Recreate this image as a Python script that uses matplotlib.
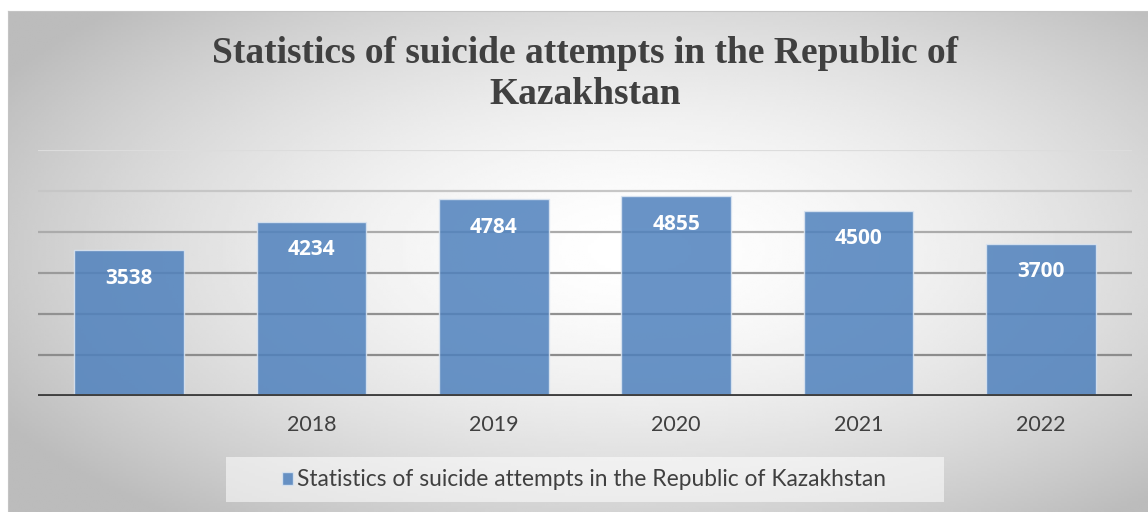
import numpy as np
import matplotlib
matplotlib.use("Agg")
import matplotlib.pyplot as plt
from matplotlib.patches import Rectangle

# data
categories = ["", "2018", "2019", "2020", "2021", "2022"]
attempts = [3538, 4234, 4784, 4855, 4500, 3700]
series_name = "Statistics of suicide attempts in the Republic of Kazakhstan"
title = "Statistics of suicide attempts in the Republic of\nKazakhstan"

W, H = 1148, 512
fig = plt.figure(figsize=(W / 100, H / 100), dpi=100, facecolor="white")

# radial gradient background of the chart area
bg = fig.add_axes([8 / W, 0, (W - 8) / W, (H - 11) / H])
nx, ny = 400, 200
xx, yy = np.meshgrid(np.linspace(8, W, nx), np.linspace(11, H, ny))
d = np.sqrt(((xx - 640) / 640) ** 2 + ((yy - 250) / 300) ** 2)
shade = 1 - 0.21 * np.clip(d, 0, 1.15) ** 1.6
bg.imshow(shade, cmap="gray", vmin=0, vmax=1, aspect="auto",
          extent=[0, 1, 0, 1], interpolation="bilinear")
bg.set_xticks([])
bg.set_yticks([])
for s in bg.spines.values():
    s.set_visible(False)
bg.spines["top"].set_visible(True)
bg.spines["left"].set_visible(True)
bg.spines["top"].set_color("#c4c4c4")
bg.spines["left"].set_color("#c4c4c4")

# legend box
fig.add_artist(Rectangle((226 / W, (H - 502) / H), (944 - 226) / W, 45 / H,
                         transform=fig.transFigure, facecolor="white",
                         alpha=0.55, edgecolor="none"))

ax = fig.add_axes([38 / W, 116.5 / H, (1132 - 38) / W, 246 / H])
ax.patch.set_alpha(0)
ax.set_ylim(0, 6000)
x = np.arange(len(categories))
ax.set_xlim(-0.5, len(categories) - 0.5)

grid_cols = ["#8c8c8c", "#919191", "#9a9a9a", "#ababab", "#c6c6c6", "#dcdcdc"]
for i, yv in enumerate(range(1000, 7000, 1000)):
    ax.axhline(yv, color=grid_cols[i], lw=1.6, zorder=1)

bars = ax.bar(x, attempts, width=0.6, color="#4f81bd", alpha=0.85,
              edgecolor="#dce6f2", linewidth=1.0, zorder=2, label=series_name)
ax.axhline(0, color="#404040", lw=2.8, zorder=3)

for xi, v in zip(x, attempts):
    ax.annotate(str(v), (xi, v), xytext=(0, -20), textcoords="offset points",
                ha="center", va="center", color="white", fontsize=15,
                fontweight="bold", family="Open Sans", zorder=4)

ax.set_xticks(x)
ax.set_xticklabels(categories, family="Lato", fontsize=15.5, color="#404040")
ax.tick_params(axis="x", length=0, pad=14)
ax.set_yticks([])
for s in ax.spines.values():
    s.set_visible(False)

fig.text(585 / W, 1 - 74 / H, title, ha="center", va="center",
         family="Liberation Serif", fontweight="bold", fontsize=27,
         color="#404040", linespacing=1.2)

leg = fig.legend(handles=[bars], labels=[series_name], loc="center",
                 bbox_to_anchor=(584 / W, 1 - 480 / H), frameon=False,
                 prop={"family": "Lato", "size": 16.4}, handlelength=0.5,
                 handleheight=0.5, handletextpad=0.2)
for t in leg.get_texts():
    t.set_color("#404040")

fig.savefig("out.png", dpi=100, facecolor="white")
